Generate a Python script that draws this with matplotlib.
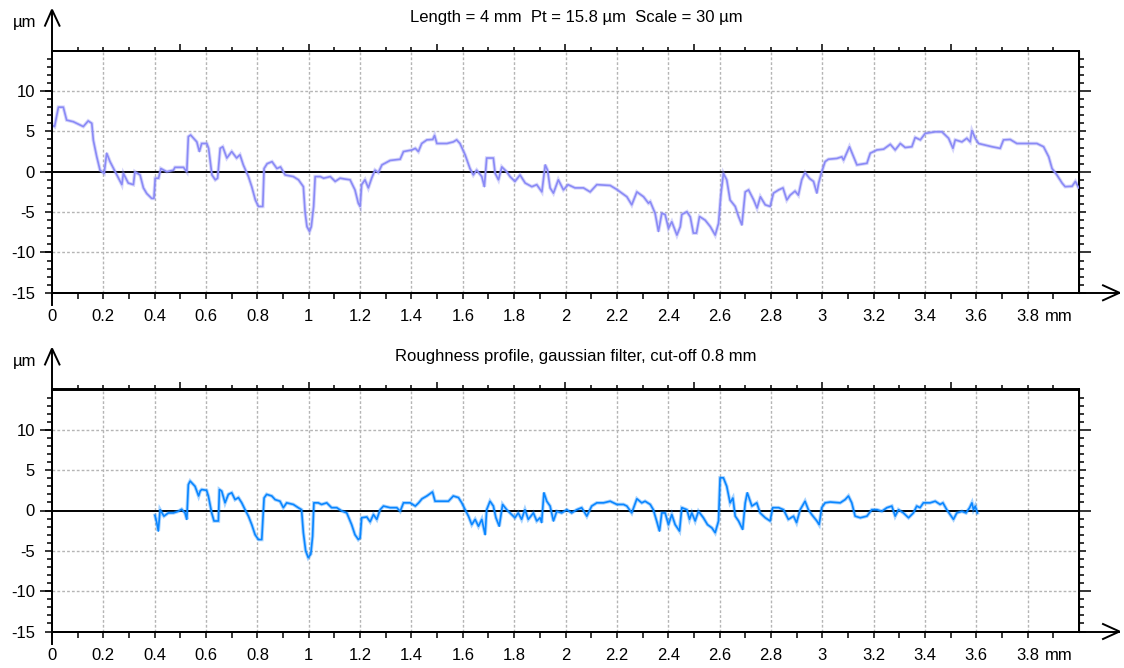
import numpy as np
import matplotlib
matplotlib.use("Agg")
import matplotlib.pyplot as plt
from matplotlib.ticker import FixedLocator, FuncFormatter, NullFormatter
from matplotlib.lines import Line2D

# ---------------------------------------------------------------- data
# Primary profile (mm, µm)
primary_x = [
    0.000, 0.010, 0.025, 0.044, 0.057, 0.083, 0.122, 0.141, 0.155, 0.161,
    0.174, 0.187, 0.203, 0.213, 0.226, 0.246, 0.272, 0.278, 0.297, 0.317,
    0.323, 0.343, 0.356, 0.369, 0.388, 0.397, 0.402, 0.415, 0.424, 0.447,
    0.473, 0.479, 0.512, 0.525, 0.531, 0.540, 0.564, 0.574, 0.583, 0.603,
    0.610, 0.623, 0.636, 0.645, 0.655, 0.665, 0.681, 0.700, 0.719, 0.732,
    0.745, 0.765, 0.778, 0.792, 0.804, 0.821, 0.826, 0.838, 0.857, 0.876,
    0.890, 0.908, 0.940, 0.960, 0.979, 0.986, 0.993, 1.003, 1.010, 1.019,
    1.025, 1.045, 1.058, 1.084, 1.103, 1.122, 1.140, 1.161, 1.180, 1.193,
    1.200, 1.206, 1.219, 1.232, 1.245, 1.258, 1.271, 1.285, 1.317, 1.356,
    1.369, 1.402, 1.415, 1.427, 1.440, 1.460, 1.483, 1.490, 1.499, 1.538,
    1.563, 1.576, 1.589, 1.609, 1.628, 1.641, 1.654, 1.674, 1.684, 1.693,
    1.719, 1.726, 1.739, 1.752, 1.771, 1.784, 1.803, 1.823, 1.843, 1.869,
    1.888, 1.908, 1.921, 1.930, 1.940, 1.953, 1.972, 1.992, 2.010, 2.037,
    2.070, 2.096, 2.122, 2.174, 2.200, 2.239, 2.258, 2.278, 2.304, 2.323,
    2.330, 2.349, 2.362, 2.375, 2.388, 2.401, 2.414, 2.434, 2.447, 2.453,
    2.473, 2.486, 2.498, 2.510, 2.522, 2.544, 2.564, 2.583, 2.596, 2.605,
    2.615, 2.628, 2.641, 2.661, 2.674, 2.687, 2.700, 2.713, 2.733, 2.746,
    2.759, 2.778, 2.797, 2.810, 2.830, 2.847, 2.862, 2.875, 2.894, 2.907,
    2.920, 2.933, 2.951, 2.966, 2.979, 2.986, 2.998, 3.011, 3.024, 3.057,
    3.076, 3.083, 3.106, 3.122, 3.135, 3.174, 3.187, 3.213, 3.239, 3.265,
    3.284, 3.304, 3.323, 3.349, 3.362, 3.382, 3.401, 3.440, 3.466, 3.492,
    3.509, 3.518, 3.544, 3.563, 3.576, 3.583, 3.596, 3.609, 3.635, 3.661,
    3.693, 3.706, 3.732, 3.758, 3.797, 3.836, 3.862, 3.882, 3.895, 3.914,
    3.934, 3.946, 3.973, 3.986, 3.999,
]
primary_z = [
    5.8, 5.6, 8.0, 8.0, 6.4, 6.2, 5.6, 6.3, 6.0, 3.9,
    1.9, 0.2, -0.2, 2.3, 1.25, 0.0, -1.6, -0.2, -1.4, -1.6,
    0.0, -0.4, -2.0, -2.7, -3.3, -3.3, -0.8, -0.8, 0.4, 0.0,
    0.2, 0.55, 0.55, 0.0, 4.35, 4.55, 3.7, 2.5, 3.5, 3.5,
    2.9, -0.4, -1.0, -0.8, 2.9, 3.1, 1.7, 2.5, 1.7, 2.1,
    0.85, -0.6, -1.85, -3.5, -4.3, -4.3, 0.4, 1.0, 1.25, 0.4,
    0.6, -0.4, -0.6, -1.0, -1.85, -5.1, -6.8, -7.4, -6.8, -4.3,
    -0.6, -0.6, -0.8, -0.6, -1.2, -0.8, -0.9, -1.0, -2.25, -3.9,
    -4.3, -1.6, -1.0, -2.0, -0.8, 0.2, -0.1, 0.85, 1.4, 1.55,
    2.5, 2.7, 2.9, 2.5, 3.5, 3.95, 4.0, 4.5, 3.5, 3.5,
    3.7, 3.95, 3.5, 2.1, 0.4, -0.4, 0.2, -0.6, -1.85, 1.7,
    1.7, -0.2, -1.0, 0.6, 0.0, -0.6, -1.2, -0.4, -1.4, -1.85,
    -1.6, -2.5, 0.85, 0.2, -2.0, -2.65, -1.0, -2.25, -1.6, -2.0,
    -2.0, -2.5, -1.6, -1.7, -2.2, -3.1, -4.1, -2.5, -3.1, -3.9,
    -3.7, -5.15, -7.4, -5.15, -5.3, -7.0, -6.2, -7.85, -6.8, -5.3,
    -4.95, -5.6, -7.6, -7.6, -5.55, -6.0, -6.8, -7.85, -6.4, -2.9,
    -0.2, -1.0, -3.5, -4.3, -5.55, -6.6, -2.5, -2.25, -3.5, -4.5,
    -3.1, -4.1, -4.3, -2.65, -2.25, -2.0, -3.5, -2.9, -2.4, -2.9,
    -1.0, -0.1, -0.85, -1.2, -2.65, -1.4, 0.0, 1.25, 1.55, 1.65,
    1.85, 1.45, 3.1, 1.85, 0.85, 1.05, 2.3, 2.7, 2.8, 3.4,
    2.7, 3.5, 3.0, 3.1, 4.25, 3.95, 4.75, 4.95, 4.95, 4.15,
    2.9, 3.95, 3.7, 4.15, 3.7, 5.1, 4.15, 3.5, 3.3, 3.1,
    2.9, 3.95, 4.0, 3.5, 3.5, 3.5, 3.1, 1.85, 0.4, -0.4,
    -1.4, -1.85, -1.8, -1.2, -2.0,
]

# Roughness profile (mm, µm)
rough_x = [
    0.401, 0.408, 0.414, 0.421, 0.436, 0.453, 0.473, 0.492, 0.505, 0.518,
    0.525, 0.531, 0.538, 0.557, 0.571, 0.577, 0.583, 0.602, 0.609, 0.622,
    0.631, 0.648, 0.652, 0.661, 0.674, 0.687, 0.700, 0.713, 0.726, 0.739,
    0.752, 0.765, 0.778, 0.791, 0.804, 0.817, 0.826, 0.836, 0.856, 0.869,
    0.888, 0.901, 0.914, 0.940, 0.959, 0.972, 0.979, 0.988, 0.998, 1.008,
    1.015, 1.020, 1.037, 1.050, 1.070, 1.089, 1.109, 1.128, 1.148, 1.167,
    1.180, 1.193, 1.200, 1.206, 1.226, 1.239, 1.252, 1.265, 1.278, 1.291,
    1.317, 1.343, 1.356, 1.369, 1.395, 1.415, 1.428, 1.441, 1.460, 1.482,
    1.492, 1.511, 1.544, 1.563, 1.583, 1.596, 1.609, 1.622, 1.635, 1.648,
    1.661, 1.674, 1.687, 1.693, 1.706, 1.719, 1.729, 1.742, 1.755, 1.771,
    1.784, 1.803, 1.816, 1.829, 1.842, 1.855, 1.875, 1.888, 1.901, 1.907,
    1.916, 1.927, 1.940, 1.953, 1.966, 1.985, 2.005, 2.024, 2.044, 2.063,
    2.083, 2.102, 2.122, 2.148, 2.174, 2.200, 2.226, 2.239, 2.258, 2.278,
    2.297, 2.310, 2.330, 2.342, 2.355, 2.366, 2.375, 2.388, 2.401, 2.414,
    2.427, 2.444, 2.453, 2.473, 2.483, 2.492, 2.505, 2.518, 2.537, 2.553,
    2.570, 2.583, 2.596, 2.602, 2.615, 2.628, 2.641, 2.652, 2.661, 2.674,
    2.690, 2.700, 2.708, 2.726, 2.745, 2.758, 2.778, 2.797, 2.807, 2.830,
    2.849, 2.868, 2.888, 2.900, 2.914, 2.933, 2.946, 2.959, 2.979, 2.988,
    2.998, 3.011, 3.031, 3.070, 3.089, 3.102, 3.115, 3.128, 3.148, 3.174,
    3.193, 3.213, 3.232, 3.252, 3.271, 3.284, 3.297, 3.316, 3.336, 3.355,
    3.368, 3.381, 3.394, 3.420, 3.440, 3.459, 3.470, 3.485, 3.498, 3.511,
    3.524, 3.544, 3.560, 3.574, 3.583, 3.589, 3.596, 3.604,
]
rough_z = [
    -0.6, -1.5, -2.55, 0.1, -0.7, -0.3, -0.3, -0.1, 0.15, -0.3,
    -1.1, 3.2, 3.65, 3.0, 1.8, 2.4, 2.6, 2.5, 1.8, -0.3,
    -1.3, -1.3, 2.6, 2.4, 0.95, 2.0, 2.2, 1.35, 1.6, 0.95,
    0.1, -0.7, -1.75, -3.0, -3.6, -3.6, 1.55, 2.0, 1.8, 1.35,
    1.15, 0.35, 0.95, 0.75, 0.35, 0.1, -2.75, -5.0, -5.85, -5.4,
    -3.2, 0.95, 0.95, 0.75, 0.95, 0.35, 0.35, -0.05, -0.3, -1.75,
    -3.0, -3.6, -3.4, -0.9, -0.8, -1.4, -0.5, -1.1, 0.1, 0.55,
    0.35, 0.35, -0.1, 0.95, 0.95, 0.55, 0.95, 1.45, 1.8, 2.3,
    1.15, 1.15, 1.15, 1.8, 1.6, 0.95, 0.1, -0.7, -1.75, -1.1,
    -1.95, -1.1, -3.0, 0.1, 1.15, 0.55, -0.9, -1.95, 0.75, 0.1,
    -0.3, -0.9, -0.3, -1.1, 0.1, -1.1, -0.3, -1.3, -0.9, -1.5,
    2.2, 1.15, 0.55, -1.3, -0.1, -0.3, 0.1, -0.3, 0.1, 0.35,
    -0.7, 0.55, 0.95, 0.95, 1.15, 0.75, 0.75, 0.55, -0.3, 1.45,
    0.95, 1.15, 0.75, 0.1, -1.3, -2.55, -0.3, -0.3, -1.75, -0.5,
    -1.75, -2.55, 0.35, 0.1, -1.1, -0.3, -1.3, -0.1, -0.9, -1.75,
    -2.15, -2.75, -1.3, 4.05, 4.05, 3.0, 0.95, 1.55, -0.7, -1.3,
    -2.35, 0.95, 2.2, 0.55, 0.95, -0.3, -0.9, -1.3, 0.35, 0.35,
    0.1, -1.1, -0.7, -1.5, 0.1, 1.15, 0.1, -0.5, -1.3, -1.75,
    0.35, 0.95, 1.05, 0.95, 1.35, 1.8, 0.95, -0.7, -0.9, -0.7,
    0.1, 0.1, -0.1, 0.35, 0.55, -0.7, 0.1, -0.3, -0.9, -0.3,
    0.55, 0.35, 0.95, 0.95, 1.15, 0.75, 0.95, 0.1, -0.5, -1.1,
    -0.3, -0.1, -0.3, 0.35, 0.95, 0.1, 0.55, -0.3,
]

x_tick_values = [0.0, 0.2, 0.4, 0.6, 0.8, 1.0, 1.2, 1.4, 1.6, 1.8, 2.0,
                 2.2, 2.4, 2.6, 2.8, 3.0, 3.2, 3.4, 3.6, 3.8]
y_tick_values = [-15, -10, -5, 0, 5, 10]
title_primary = "Length = 4 mm  Pt = 15.8 µm  Scale = 30 µm"
title_rough = "Roughness profile, gaussian filter, cut-off 0.8 mm"
unit_x = "mm"
unit_y = "µm"

# ---------------------------------------------------------------- style
plt.rcParams["font.family"] = ["Liberation Sans", "DejaVu Sans"]
plt.rcParams["font.size"] = 12
plt.rcParams["axes.unicode_minus"] = False

W, H, DPI = 1124, 668, 100
PT = 72.0 / DPI          # points per pixel
LEFT, RIGHT = 52.0, 1079.0
X_MIN, X_MAX = 0.0, 4.0
Y_MIN, Y_MAX = -15.0, 15.0
GRID_COLOR = "#b5b5b5"
SPINE_LW = 1.4

fig = plt.figure(figsize=(W / DPI, H / DPI), dpi=DPI)
fig.patch.set_facecolor("white")


def fig_line(points, lw=SPINE_LW):
    xs = [p[0] / W for p in points]
    ys = [1 - p[1] / H for p in points]
    fig.add_artist(Line2D(xs, ys, transform=fig.transFigure, color="black",
                          lw=lw, solid_capstyle="projecting",
                          solid_joinstyle="miter"))


def draw_panel(top, bot, xs, zs, color, title):
    ax = fig.add_axes([LEFT / W, 1 - bot / H, (RIGHT - LEFT) / W, (bot - top) / H])
    ax.set_xlim(X_MIN, X_MAX)
    ax.set_ylim(Y_MIN, Y_MAX)
    for s in ax.spines.values():
        s.set_linewidth(SPINE_LW)
        s.set_color("black")

    # grid
    for xv in x_tick_values[1:]:
        ax.axvline(xv, color=GRID_COLOR, lw=1.0, ls=(0, (2, 1.5)), zorder=0)
    for yv in y_tick_values:
        if yv != 0:
            ax.axhline(yv, color=GRID_COLOR, lw=1.0, ls=(0, (2, 1.5)), zorder=0)
    ax.axhline(0, color="black", lw=SPINE_LW, zorder=1)

    # profile trace
    ax.plot(xs, zs, color=color, lw=2.6, alpha=0.35, zorder=2,
            solid_joinstyle="miter")
    ax.plot(xs, zs, color=color, lw=1.2, zorder=3)

    # bottom x ticks and labels
    ax.xaxis.set_major_locator(FixedLocator(x_tick_values))
    ax.xaxis.set_major_formatter(FuncFormatter(lambda v, _: f"{v:g}"))
    ax.xaxis.set_minor_locator(FixedLocator(np.round(np.arange(0.1, 4.0, 0.2), 1)))
    ax.tick_params(axis="x", which="both", direction="out", length=6 * PT,
                   width=1.1, pad=10.5 * PT, labelsize=12)

    # left y ticks and labels
    ax.yaxis.set_major_locator(FixedLocator(y_tick_values))
    ax.yaxis.set_major_formatter(FuncFormatter(lambda v, _: f"{v:g}"))
    ax.yaxis.set_minor_locator(FixedLocator([v for v in range(-14, 15) if v % 5]))
    ax.tick_params(axis="y", which="major", direction="out", length=7 * PT,
                   width=1.1, pad=10 * PT, labelsize=12)
    ax.tick_params(axis="y", which="minor", direction="out", length=5 * PT, width=1.1)

    left_long = ax.secondary_yaxis("left")
    left_long.yaxis.set_major_locator(FixedLocator([-10, 0, 10]))
    left_long.yaxis.set_major_formatter(NullFormatter())
    left_long.tick_params(direction="out", length=12 * PT, width=1.1)
    left_long.spines["left"].set_linewidth(SPINE_LW)

    # top ticks
    top_ax = ax.secondary_xaxis("top")
    top_ax.xaxis.set_major_locator(FixedLocator([0.5, 1.0, 1.5, 2.0, 2.5, 3.0, 3.5]))
    top_ax.xaxis.set_minor_locator(FixedLocator(np.round(np.arange(0.1, 4.0, 0.1), 1)))
    top_ax.xaxis.set_major_formatter(NullFormatter())
    top_ax.tick_params(which="major", direction="out", length=7 * PT, width=1.1)
    top_ax.tick_params(which="minor", direction="out", length=4.5 * PT, width=1.1)
    top_ax.spines["top"].set_linewidth(SPINE_LW)

    # right ticks (two lengths)
    right_ax = ax.secondary_yaxis("right")
    right_ax.yaxis.set_major_locator(FixedLocator([-15, -5, 5]))
    right_ax.yaxis.set_minor_locator(FixedLocator([v for v in range(-14, 15) if v % 5]))
    right_ax.yaxis.set_major_formatter(NullFormatter())
    right_ax.tick_params(which="major", direction="out", length=7 * PT, width=1.1)
    right_ax.tick_params(which="minor", direction="out", length=5 * PT, width=1.1)
    right_ax.spines["right"].set_linewidth(SPINE_LW)
    right_long = ax.secondary_yaxis("right")
    right_long.yaxis.set_major_locator(FixedLocator([-10, 0, 10]))
    right_long.yaxis.set_major_formatter(NullFormatter())
    right_long.tick_params(direction="out", length=12 * PT, width=1.1)

    # unit of the x axis next to the last label
    ax.annotate(unit_x, xy=(x_tick_values[-1], 0), xycoords=("data", "axes fraction"),
                xytext=(12.5, -(6 + 10.5) * PT), textcoords="offset points",
                ha="left", va="top", fontsize=12)

    # extended axes with open arrow heads
    fig_line([(LEFT, bot + 12), (LEFT, top - 40)])
    fig_line([(LEFT - 7, top - 25), (LEFT, top - 41), (LEFT + 7.5, top - 25)])
    fig_line([(LEFT, bot), (RIGHT + 40, bot)])
    fig_line([(RIGHT + 24, bot - 7.5), (RIGHT + 40.5, bot), (RIGHT + 24, bot + 7.5)])

    # unit of the y axis and title
    fig.text(25 / W, 1 - (top - 28) / H, unit_y, ha="center", va="center", fontsize=12)
    fig.text(576 / W, 1 - (top - 33) / H, title, ha="center", va="center", fontsize=12)
    return ax


draw_panel(50.7, 292.8, primary_x, primary_z, "#8a8af6", title_primary)
draw_panel(389.5, 631.5, rough_x, rough_z, "#0a86ff", title_rough)

fig.savefig("out.png", dpi=DPI)
